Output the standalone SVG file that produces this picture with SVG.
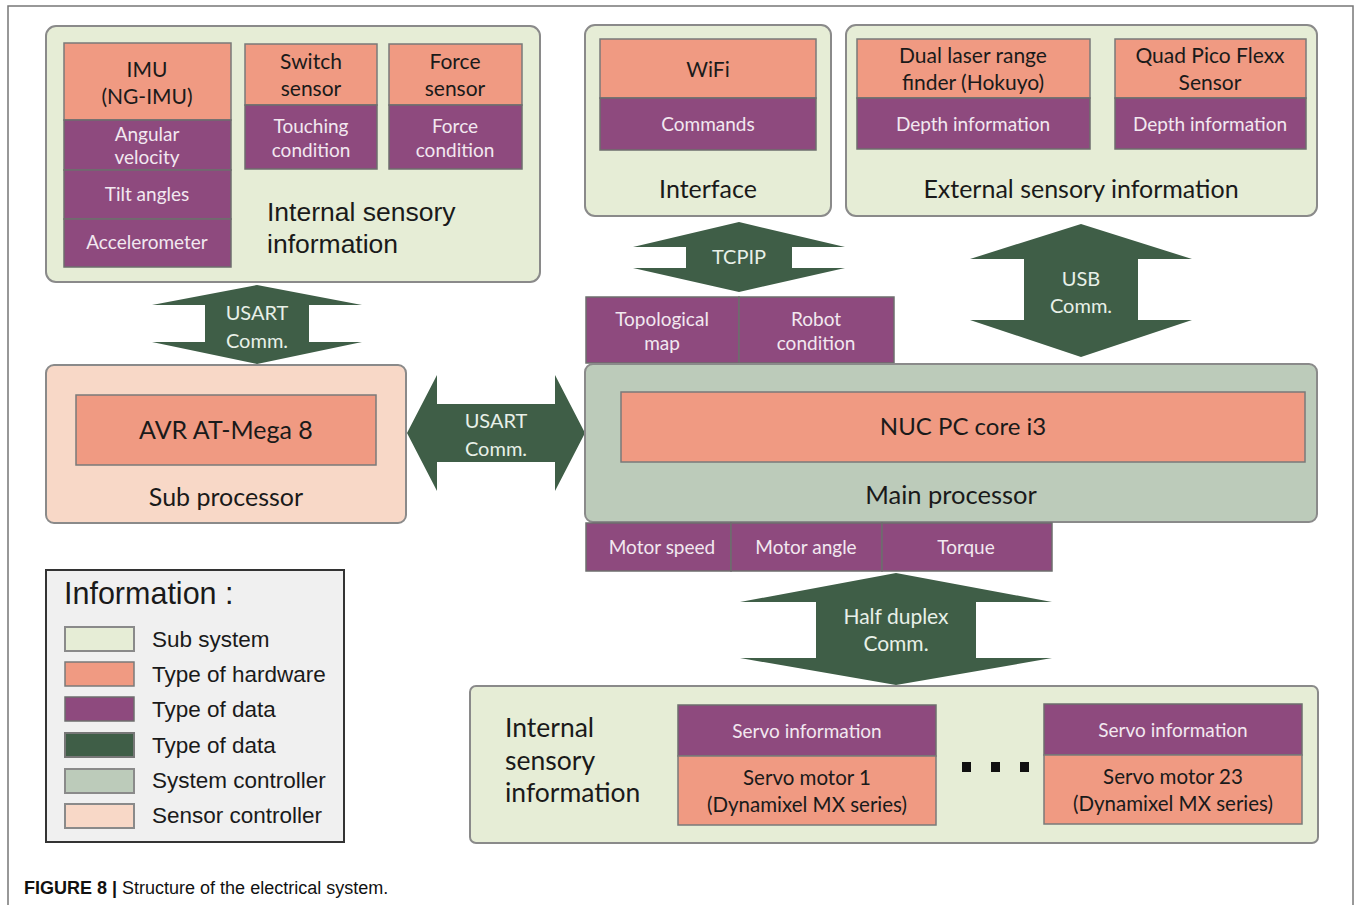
<svg xmlns="http://www.w3.org/2000/svg" width="1356" height="905" viewBox="0 0 1356 905">
<style>
.sub{fill:#E6EDD6;stroke:#8A8A8A;stroke-width:2}
.hw{fill:#F09A82;stroke:#7A7A7A;stroke-width:1.5}
.dt{fill:#8E4A7E;stroke:#6E6E6E;stroke-width:1.5}
.sys{fill:#BCCBBA;stroke:#8A8A8A;stroke-width:2}
.sen{fill:#F8D8C7;stroke:#8A8A8A;stroke-width:2}
.arr{fill:#3F5E47}
.c{font-family:Lato,"Open Sans",sans-serif;text-anchor:middle}
.tk{fill:#1a1a1a}
.tw{fill:#F2E8F0}
.ta{fill:#E8F0E8}
.ar{font-family:"Liberation Sans",Arial,sans-serif;fill:#1a1a1a}
</style>
<rect x="8" y="6" width="1345" height="910" fill="#fff" stroke="#777" stroke-width="1.5"/>

<g id="connectors">
<polygon class="arr" points="739,222 845,247 792,247 792,268 845,268 739,292 633,268 686,268 686,247 633,247"/>
<text class="c ta" x="739" y="264" font-size="20">TCPIP</text>
<polygon class="arr" points="1081,224 1192,259 1138,259 1138,320 1192,320 1081,357 970,320 1024,320 1024,259 970,259"/>
<text class="c ta" x="1081" y="286" font-size="20">USB</text>
<text class="c ta" x="1081" y="313" font-size="20">Comm.</text>
<polygon class="arr" points="257,285 362,305 309,305 309,342 362,342 257,364 152,342 205,342 205,305 152,305"/>
<text class="c ta" x="257" y="320" font-size="20">USART</text>
<text class="c ta" x="257" y="348" font-size="20">Comm.</text>
<polygon class="arr" points="407,433 437,375 437,404 555,404 555,375 585,433 555,491 555,462 437,462 437,491"/>
<text class="c ta" x="496" y="428" font-size="20">USART</text>
<text class="c ta" x="496" y="456" font-size="20">Comm.</text>
<polygon class="arr" points="896,573 1052,602 976,602 976,658 1052,658 896,685 740,658 816,658 816,602 740,602"/>
<text class="c ta" x="896" y="624" font-size="21">Half duplex</text>
<text class="c ta" x="896" y="651" font-size="21">Comm.</text>
</g>

<g id="internal-top">
<rect class="sub" x="46" y="26" width="494" height="256" rx="10"/>
<rect class="hw" x="64" y="43" width="167" height="77"/>
<text class="c tk" x="147" y="77" font-size="21">IMU</text>
<text class="c tk" x="147" y="104" font-size="21">(NG-IMU)</text>
<rect class="dt" x="64" y="120" width="167" height="50"/>
<text class="c tw" x="147" y="141" font-size="19">Angular</text>
<text class="c tw" x="147" y="164" font-size="19">velocity</text>
<rect class="dt" x="64" y="170" width="167" height="49"/>
<text class="c tw" x="147" y="201" font-size="19">Tilt angles</text>
<rect class="dt" x="64" y="219" width="167" height="48"/>
<text class="c tw" x="147" y="249" font-size="19">Accelerometer</text>
<rect class="hw" x="245" y="44" width="132" height="61"/>
<text class="c tk" x="311" y="69" font-size="21">Switch</text>
<text class="c tk" x="311" y="96" font-size="21">sensor</text>
<rect class="dt" x="245" y="105" width="132" height="64"/>
<text class="c tw" x="311" y="133" font-size="19">Touching</text>
<text class="c tw" x="311" y="157" font-size="19">condition</text>
<rect class="hw" x="389" y="44" width="133" height="61"/>
<text class="c tk" x="455" y="69" font-size="21">Force</text>
<text class="c tk" x="455" y="96" font-size="21">sensor</text>
<rect class="dt" x="389" y="105" width="133" height="64"/>
<text class="c tw" x="455" y="133" font-size="19">Force</text>
<text class="c tw" x="455" y="157" font-size="19">condition</text>
<text class="ar" x="267" y="221" font-size="26.5">Internal sensory</text>
<text class="ar" x="267" y="253" font-size="26.5">information</text>
</g>

<g id="interface">
<rect class="sub" x="585" y="25" width="246" height="191" rx="10"/>
<rect class="hw" x="600" y="39" width="216" height="59"/>
<text class="c tk" x="708" y="77" font-size="21">WiFi</text>
<rect class="dt" x="600" y="98" width="216" height="52"/>
<text class="c tw" x="708" y="131" font-size="19">Commands</text>
<text class="c tk" x="708" y="198" font-size="25">Interface</text>
</g>

<g id="external">
<rect class="sub" x="846" y="25" width="471" height="191" rx="10"/>
<rect class="hw" x="857" y="39" width="233" height="59"/>
<text class="c tk" x="973" y="63" font-size="21">Dual laser range</text>
<text class="c tk" x="973" y="90" font-size="21">finder (Hokuyo)</text>
<rect class="dt" x="857" y="98" width="233" height="51"/>
<text class="c tw" x="973" y="131" font-size="19">Depth information</text>
<rect class="hw" x="1115" y="39" width="191" height="59"/>
<text class="c tk" x="1210" y="63" font-size="21">Quad Pico Flexx</text>
<text class="c tk" x="1210" y="90" font-size="21">Sensor</text>
<rect class="dt" x="1115" y="98" width="191" height="51"/>
<text class="c tw" x="1210" y="131" font-size="19">Depth information</text>
<text class="c tk" x="1081" y="198" font-size="25">External sensory information</text>
</g>

<g id="main-data-top">
<rect class="dt" x="586" y="297" width="153" height="66"/>
<text class="c tw" x="662" y="326" font-size="19">Topological</text>
<text class="c tw" x="662" y="350" font-size="19">map</text>
<rect class="dt" x="739" y="297" width="155" height="66"/>
<text class="c tw" x="816" y="326" font-size="19">Robot</text>
<text class="c tw" x="816" y="350" font-size="19">condition</text>
</g>

<g id="main-processor">
<rect class="sys" x="585" y="364" width="732" height="158" rx="8"/>
<rect class="hw" x="621" y="392" width="684" height="70"/>
<text class="c tk" x="963" y="435" font-size="24">NUC PC core i3</text>
<text class="c tk" x="951" y="504" font-size="25.5">Main processor</text>
</g>

<g id="main-data-bottom">
<rect class="dt" x="586" y="523" width="145" height="48"/>
<text class="c tw" x="662" y="554" font-size="19">Motor speed</text>
<rect class="dt" x="731" y="523" width="151" height="48"/>
<text class="c tw" x="806" y="554" font-size="19">Motor angle</text>
<rect class="dt" x="882" y="523" width="170" height="48"/>
<text class="c tw" x="966" y="554" font-size="19">Torque</text>
</g>

<g id="sub-processor">
<rect class="sen" x="46" y="365" width="360" height="158" rx="8"/>
<rect class="hw" x="76" y="395" width="300" height="70"/>
<text class="c tk" x="226" y="439" font-size="25">AVR AT-Mega 8</text>
<text class="c tk" x="226" y="506" font-size="25">Sub processor</text>
</g>

<g id="internal-bottom">
<rect class="sub" x="470" y="686" width="848" height="157" rx="6"/>
<text font-family="Lato,'Open Sans',sans-serif" fill="#1a1a1a" font-size="26.5" x="505" y="737">Internal</text>
<text font-family="Lato,'Open Sans',sans-serif" fill="#1a1a1a" font-size="26.5" x="505" y="770">sensory</text>
<text font-family="Lato,'Open Sans',sans-serif" fill="#1a1a1a" font-size="26.5" x="505" y="802">information</text>
<rect class="dt" x="678" y="705" width="258" height="51"/>
<text class="c tw" x="807" y="738" font-size="19">Servo information</text>
<rect class="hw" x="678" y="756" width="258" height="69"/>
<text class="c tk" x="807" y="785" font-size="20.5">Servo motor 1</text>
<text class="c tk" x="807" y="812" font-size="20.5">(Dynamixel MX series)</text>
<rect class="dt" x="1044" y="704" width="258" height="51"/>
<text class="c tw" x="1173" y="737" font-size="19">Servo information</text>
<rect class="hw" x="1044" y="755" width="258" height="69"/>
<text class="c tk" x="1173" y="784" font-size="20.5">Servo motor 23</text>
<text class="c tk" x="1173" y="811" font-size="20.5">(Dynamixel MX series)</text>
<rect x="962" y="762" width="9" height="10" fill="#111"/>
<rect x="991" y="762" width="9" height="10" fill="#111"/>
<rect x="1020" y="762" width="9" height="10" fill="#111"/>
</g>

<g id="legend">
<rect x="46" y="570" width="298" height="272" fill="#F0F0F0" stroke="#333" stroke-width="2"/>
<text class="ar" x="64" y="604" font-size="30.5">Information :</text>
<rect class="sub" x="65" y="627" width="69" height="24"/>
<text class="ar" x="152" y="647" font-size="22.5">Sub system</text>
<rect class="hw" x="65" y="662" width="69" height="24" stroke-width="2"/>
<text class="ar" x="152" y="682" font-size="22.5">Type of hardware</text>
<rect class="dt" x="65" y="697" width="69" height="24" stroke-width="2"/>
<text class="ar" x="152" y="717" font-size="22.5">Type of data</text>
<rect x="65" y="733" width="69" height="24" fill="#3F5E47" stroke="#777" stroke-width="2"/>
<text class="ar" x="152" y="753" font-size="22.5">Type of data</text>
<rect class="sys" x="65" y="769" width="69" height="24"/>
<text class="ar" x="152" y="788" font-size="22.5">System controller</text>
<rect class="sen" x="65" y="804" width="69" height="24"/>
<text class="ar" x="152" y="823" font-size="22.5">Sensor controller</text>
</g>

<text x="24" y="894" font-family="'Liberation Sans',Arial,sans-serif" font-size="18" fill="#111"><tspan font-weight="bold">FIGURE 8 |</tspan> Structure of the electrical system.</text>
</svg>
